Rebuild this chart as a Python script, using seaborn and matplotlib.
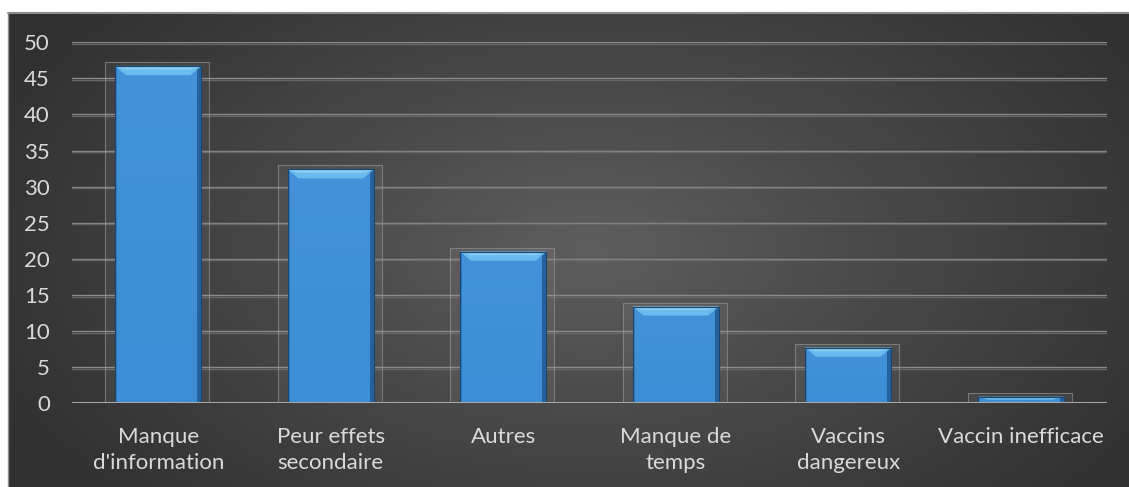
import numpy as np
import matplotlib
matplotlib.use("Agg")
import matplotlib.pyplot as plt
from matplotlib.patches import Rectangle, Polygon
from matplotlib.lines import Line2D
import seaborn as sns

categories = ["Manque\nd'information", "Peur effets\nsecondaire", "Autres",
              "Manque de\ntemps", "Vaccins\ndangereux", "Vaccin inefficace"]
values = [46.7, 32.4, 21.0, 13.4, 7.7, 0.9]
yticks = [0, 5, 10, 15, 20, 25, 30, 35, 40, 45, 50]

W, H = 1129, 487
sns.set_theme(style="dark")
plt.rcParams["font.family"] = ["Lato", "DejaVu Sans"]

fig = plt.figure(figsize=(W / 100, H / 100), dpi=100)
fig.patch.set_facecolor("white")

# dark panel with a soft radial highlight
bg_l = 8 / W
bg_h = 1 - 13 / H
bg = fig.add_axes([bg_l, 0, 1 - bg_l, bg_h])
gx, gy = np.meshgrid(np.linspace(0, 1, 400), np.linspace(0, 1, 200))
r = np.sqrt(((gx - 0.52) / 0.62) ** 2 + ((gy - 0.5) / 0.85) ** 2)
t = np.clip(1 - r, 0, 1) ** 1.1
lo, hi = np.array([0x2f, 0x2f, 0x2f]) / 255, np.array([0x5e, 0x5e, 0x5e]) / 255
img = lo + (hi - lo) * t[..., None]
bg.imshow(img, extent=[0, 1, 0, 1], aspect="auto", origin="upper")
bg.set_xlim(0, 1)
bg.set_ylim(0, 1)
bg.axis("off")
fig.add_artist(Line2D([bg_l, 1], [bg_h, bg_h], color="#8c8c8c", lw=1.5))
fig.add_artist(Line2D([bg_l, bg_l], [0, bg_h], color="#8c8c8c", lw=1.0))

ax = fig.add_axes([72 / W, 1 - 403.3 / H, (1107 - 72) / W, (403.3 - 42.3) / H])
ax.patch.set_alpha(0)

sns.barplot(x=categories, y=values, color="#3d8ed6", saturation=1, width=0.5,
            ax=ax, zorder=3, edgecolor="none")

ax.set_ylim(0, 50)
ax.set_xlim(-0.5, len(categories) - 0.5)
ax.set_yticks(yticks)
ax.set_xlabel("")
ax.set_ylabel("")
for s in ax.spines.values():
    s.set_visible(False)
ax.grid(False)
ax.tick_params(axis="y", length=0, pad=16, labelsize=16, labelcolor="#d9d9d9")
ax.tick_params(axis="x", length=0, pad=17, labelsize=16, labelcolor="#d9d9d9")
for lab in ax.get_xticklabels():
    lab.set_linespacing(1.35)

# pixel scale of the axes for bevel sizes
fig.canvas.draw()
bb = ax.get_window_extent()
px_x = (ax.get_xlim()[1] - ax.get_xlim()[0]) / bb.width
px_y = (ax.get_ylim()[1] - ax.get_ylim()[0]) / bb.height

# gridlines (double hairlines) and baseline
for v in yticks[1:]:
    ax.axhline(v, color="#8a8a8a", lw=1.0, zorder=1)
    ax.axhline(v - 1.5 * px_y, color="#666666", lw=1.0, zorder=1)
ax.axhline(0, color="#a8a8a8", lw=2.2, zorder=5)

for p in list(ax.patches):
    x0, w, h = p.get_x(), p.get_width(), p.get_height()
    x1 = x0 + w
    # faint outline box behind each bar
    ax.add_patch(Rectangle((x0 - 10 * px_x, -1 * px_y), w + 18 * px_x, h + 5 * px_y,
                           facecolor="#ffffff", alpha=0.05, edgecolor="none", zorder=2))
    ax.add_patch(Rectangle((x0 - 10 * px_x, -1 * px_y), w + 18 * px_x, h + 5 * px_y,
                           facecolor="none", edgecolor="#9a9a9a", lw=0.8, alpha=0.6,
                           zorder=2))
    # subtle vertical shading: a little lighter toward the top
    shade = np.linspace(0, 1, 50)[:, None]
    ax.imshow(np.dstack([np.full_like(shade, 0.45), np.full_like(shade, 0.7),
                         np.full_like(shade, 0.95), shade * 0.12]),
              extent=[x0, x1, 0, h], aspect="auto", origin="lower", zorder=3.5)
    sw = min(5 * px_x, w * 0.05)
    th = min(9 * px_y, h * 0.45)
    # side edges
    ax.add_patch(Rectangle((x0, 0), sw * 0.5, h, facecolor="#2f74b4", alpha=0.7,
                           edgecolor="none", zorder=4))
    ax.add_patch(Rectangle((x1 - sw, 0), sw, h, facecolor="#1d5288", alpha=0.75,
                           edgecolor="none", zorder=4))
    # top bevel
    ax.add_patch(Polygon([(x0, h), (x1, h), (x1 - sw * 2.5, h - th), (x0 + sw * 2.5, h - th)],
                         closed=True, facecolor="#6bbcec", edgecolor="none", zorder=4))
    ax.add_patch(Polygon([(x0, h), (x1, h), (x1 - sw * 2.5, h - th * 0.4),
                          (x0 + sw * 2.5, h - th * 0.4)],
                         closed=True, facecolor="#9ed8f6", alpha=0.55, edgecolor="none",
                         zorder=4))
    ax.add_patch(Rectangle((x0, h - 1.0 * px_y), w, 1.0 * px_y, facecolor="#3579b8",
                           edgecolor="none", zorder=4))
    # outline
    ax.add_patch(Rectangle((x0, 0), w, h, facecolor="none", edgecolor="#1a4570",
                           lw=0.8, zorder=4.5))

ax.set_xlim(-0.5, len(categories) - 0.5)
ax.set_ylim(0, 50)
fig.savefig("out.png", dpi=100)
